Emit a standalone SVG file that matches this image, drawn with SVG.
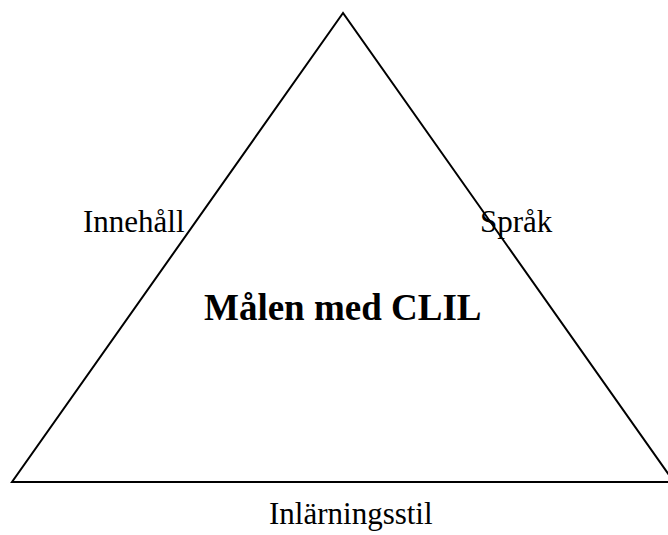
<svg xmlns="http://www.w3.org/2000/svg" width="668" height="535" viewBox="0 0 668 535">
<style>
.t{font-family:"Liberation Serif","Times New Roman",serif;font-size:31px;fill:#000}
.b{font-family:"Liberation Serif","Times New Roman",serif;font-size:37px;font-weight:bold;fill:#000}
.edge{fill:none;stroke:#000;stroke-width:2}
</style>
<rect width="668" height="535" fill="#fff"/>
<g id="connectors">
<path class="edge" d="M343,13 L12,482 L674,482 Z"/>
</g>
<g id="innehall"><text class="t" x="83" y="232">Innehåll</text></g>
<g id="sprak"><text class="t" x="480" y="232">Språk</text></g>
<g id="malen"><text class="b" x="204" y="320">Målen med CLIL</text></g>
<g id="inlarningsstil"><text class="t" x="269" y="524">Inlärningsstil</text></g>
</svg>
